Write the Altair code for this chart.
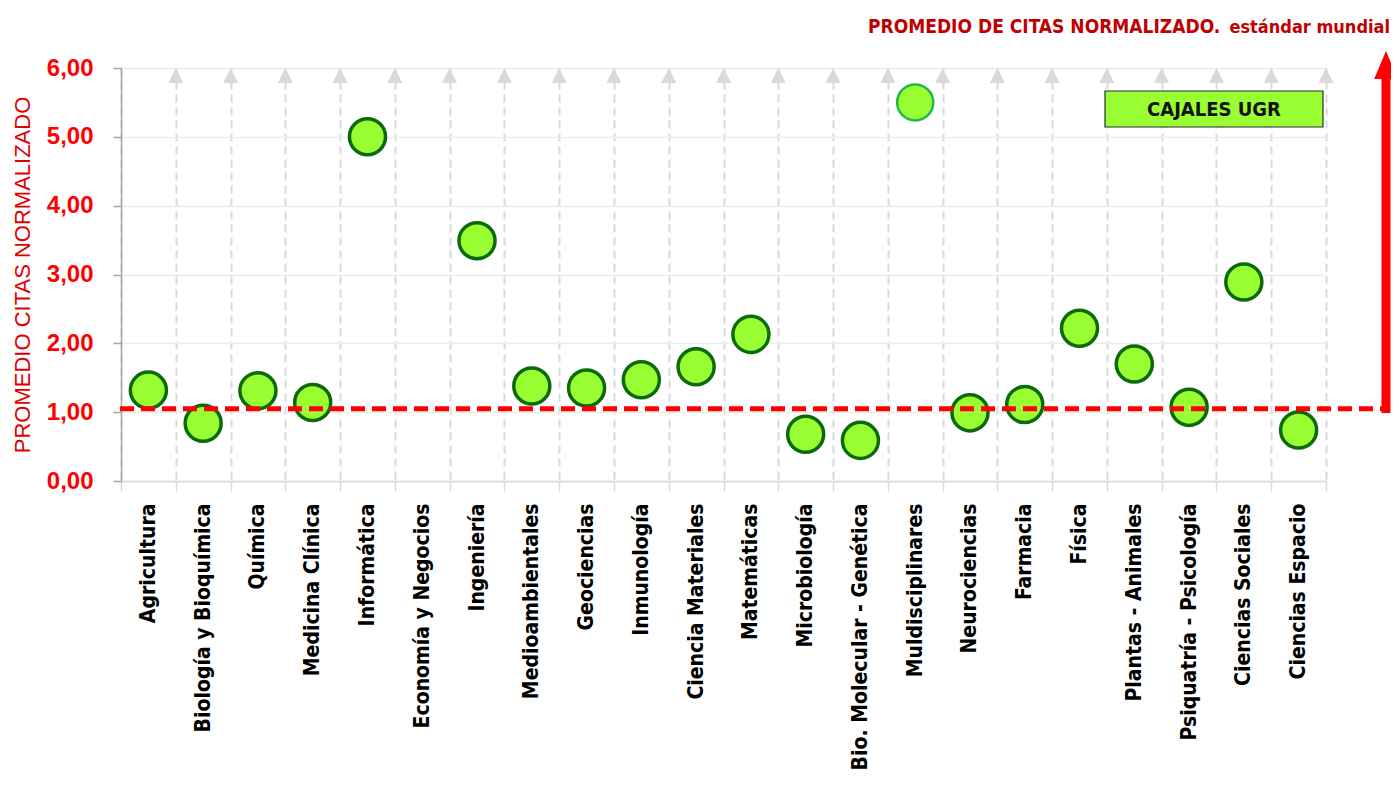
import altair as alt
import pandas as pd

# ---------------- data ----------------
categories = [
    "Agricultura", "Biología y Bioquímica", "Química", "Medicina Clínica",
    "Informática", "Economía y Negocios", "Ingeniería", "Medioambientales",
    "Geociencias", "Inmunología", "Ciencia Materiales", "Matemáticas",
    "Microbiología", "Bio. Molecular - Genética", "Muldisciplinares",
    "Neurociencias", "Farmacia", "Física", "Plantas - Animales",
    "Psiquatría - Psicología", "Ciencias Sociales", "Ciencias Espacio",
]
values = [1.32, 0.84, 1.31, 1.14, 5.00, None, 3.49, 1.38, 1.35, 1.47, 1.66,
          2.13, 0.68, 0.59, 5.50, 0.99, 1.11, 2.22, 1.70, 1.07, 2.89, 0.74]
stroke_colors = ["#0b6b0b"] * 22
stroke_colors[14] = "#1fb84a"
stroke_widths = [3.5] * 22
stroke_widths[14] = 2.5

reference_value = [1.05]
y_ticks = [0, 1, 2, 3, 4, 5, 6]
title_main = ["PROMEDIO DE CITAS NORMALIZADO."]
title_sub = ["estándar mundial"]
legend_label = ["CAJALES UGR"]
y_title = "PROMEDIO CITAS NORMALIZADO"

df = pd.DataFrame({"cat": categories, "val": values,
                   "stroke": stroke_colors, "sw": stroke_widths})

NARROW = "Liberation Sans Narrow, DejaVu Sans Condensed, Arial Narrow, sans-serif"
SANS = "Liberation Sans, Arial, sans-serif"

W, H = 1205, 413

xscale = alt.Scale(domain=categories, type="band", paddingInner=0, paddingOuter=0)
yscale = alt.Scale(domain=[0, 6], nice=False)

xaxis = alt.Axis(
    title=None, labelAngle=-90, labelAlign="right", labelBaseline="middle",
    labelFont=NARROW, labelFontSize=21, labelFontWeight="bold", labelColor="black",
    labelPadding=12, labelLimit=400, tickBand="extent", tickColor="#d9d9d9",
    tickSize=10, tickWidth=1.5, domainColor="#d9d9d9", domainWidth=1.5,
    grid=True, gridColor="#d9d9d9", gridDash=[8, 5], gridWidth=2,
)
yaxis = alt.Axis(
    title=y_title, titleColor="#e00000", titleFont=SANS, titleFontSize=22,
    titleFontWeight="normal", titleX=-99, titleY=H / 2, titleAngle=-90,
    titleAlign="center", titleBaseline="middle",
    values=y_ticks, labelExpr="replace(format(datum.value, '.2f'), '.', ',')",
    labelColor="#ff0000", labelFont=SANS, labelFontSize=24, labelFontWeight="bold",
    labelPadding=20, tickSize=8, tickColor="#a6a6a6", tickWidth=1.5,
    domainColor="#a6a6a6", domainWidth=1.5, grid=True, gridColor="#ececec",
    gridWidth=1.5,
)

X = alt.X("cat:N", scale=xscale, sort=categories, axis=xaxis)
base = alt.Chart(df)

# grey arrowheads on top of each dashed category separator
tri = "M-1,1L0,-1L1,1Z"
arrows = base.mark_point(shape=tri, filled=True, size=225, opacity=1,
                         color="#d9d9d9", xOffset=W / 22 / 2).encode(
    x=X, y=alt.value(7.5))

points = base.mark_circle(size=1300, opacity=1).encode(
    x=X,
    y=alt.Y("val:Q", scale=yscale, axis=yaxis),
    fill=alt.value("#99ff33"),
    stroke=alt.Stroke("stroke:N", scale=None),
    strokeWidth=alt.StrokeWidth("sw:Q", scale=None),
)

ref_df = pd.DataFrame({"ref": reference_value})
ref_line = alt.Chart(ref_df).mark_rule(color="#ff0000", strokeWidth=5,
                                       strokeDash=[14, 7]).encode(
    y=alt.Y("ref:Q", scale=yscale, axis=yaxis),
    x=alt.value(-1), x2=alt.value(1261),
)

shaft = alt.Chart(ref_df).mark_rule(color="#ff0000", strokeWidth=9,
                                    strokeCap="butt").encode(
    y=alt.value(345), y2=alt.value(10), x=alt.value(1265))
head = alt.Chart(ref_df).mark_point(shape="M-0.85,1L0,-1L0.85,1Z", filled=True,
                                    opacity=1, size=784, color="#ff0000").encode(
    x=alt.value(1265), y=alt.value(-3))

t1 = alt.Chart(pd.DataFrame({"t": title_main})).mark_text(
    font=NARROW, fontSize=19, fontWeight="bold", color="#c00000",
    align="left", baseline="alphabetic").encode(
    text="t:N", x=alt.value(747), y=alt.value(-35))
t2 = alt.Chart(pd.DataFrame({"t": title_sub})).mark_text(
    font=NARROW, fontSize=18, fontWeight="bold", color="#c00000",
    align="right", baseline="alphabetic").encode(
    text="t:N", x=alt.value(1269), y=alt.value(-35))

leg_box = alt.Chart(pd.DataFrame({"t": legend_label})).mark_rect(
    fill="#99ff33", stroke="#2b2b2b", strokeWidth=1.2).encode(
    x=alt.value(984), x2=alt.value(1202), y=alt.value(23), y2=alt.value(59))
leg_text = alt.Chart(pd.DataFrame({"t": legend_label})).mark_text(
    font=NARROW, fontSize=20, fontWeight="bold", color="#111111",
    align="center", baseline="alphabetic").encode(
    text="t:N", x=alt.value(1093), y=alt.value(48))

chart = alt.layer(arrows, points, ref_line, shaft, head, t1, t2, leg_box, leg_text).properties(
    width=W, height=H,
    autosize=alt.AutoSizeParams(type="none"),
    padding={"left": 113, "top": 60, "right": 65, "bottom": 306},
).configure_view(strokeWidth=0)

chart.save("out.html", embed_options={"renderer": "svg", "actions": False})
